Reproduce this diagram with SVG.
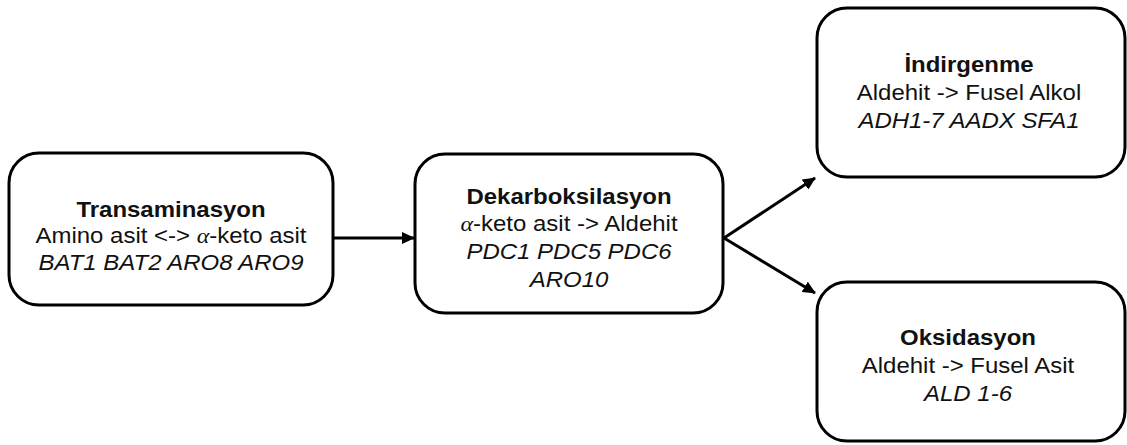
<svg xmlns="http://www.w3.org/2000/svg" width="1127" height="445" viewBox="0 0 1127 445">
  <style>
    .box { fill: #ffffff; stroke: #000000; stroke-width: 3; }
    .t { font-family: "Liberation Sans", Arial, sans-serif; font-size: 22px; fill: #111111; text-anchor: middle; }
    .b { font-weight: bold; }
    .i { font-style: italic; }
    .g { font-family: "Liberation Serif", "Times New Roman", serif; font-style: italic; }
    .edge { stroke: #000000; stroke-width: 3; fill: none; }
  </style>
  <defs>
    <marker id="arrow" markerWidth="13" markerHeight="12" refX="12" refY="6" orient="auto" markerUnits="userSpaceOnUse">
      <path d="M0,0 L13,6 L0,12 Z" fill="#000000"/>
    </marker>
  </defs>

  <g id="connectors">
    <line class="edge" x1="334" y1="238" x2="414" y2="238" marker-end="url(#arrow)"/>
    <line class="edge" x1="724" y1="238" x2="815" y2="178" marker-end="url(#arrow)"/>
    <line class="edge" x1="724" y1="238" x2="815" y2="293" marker-end="url(#arrow)"/>
  </g>

  <!-- labels are drawn at x=0 and stretched slightly wider around each box centre -->
  <g id="transaminasyon">
    <rect class="box" x="9" y="153" width="324" height="152" rx="30" ry="30"/>
    <g transform="translate(171,0) scale(1.09,1)">
      <text class="t b" x="0" y="217">Transaminasyon</text>
      <text class="t" x="0" y="243">Amino asit &lt;-&gt; <tspan class="g">α</tspan>-keto asit</text>
      <text class="t i" x="0" y="270">BAT1 BAT2 ARO8 ARO9</text>
    </g>
  </g>

  <g id="dekarboksilasyon">
    <rect class="box" x="415" y="154" width="308" height="159" rx="30" ry="30"/>
    <g transform="translate(569,0) scale(1.09,1)">
      <text class="t b" x="0" y="204">Dekarboksilasyon</text>
      <text class="t" x="0" y="231"><tspan class="g">α</tspan>-keto asit -&gt; Aldehit</text>
      <text class="t i" x="0" y="259">PDC1 PDC5 PDC6</text>
      <text class="t i" x="0" y="287">ARO10</text>
    </g>
  </g>

  <g id="indirgenme">
    <rect class="box" x="817" y="8" width="308" height="169" rx="30" ry="30"/>
    <g transform="translate(969,0) scale(1.09,1)">
      <text class="t b" x="0" y="72">İndirgenme</text>
      <text class="t" x="0" y="100">Aldehit -&gt; Fusel Alkol</text>
      <text class="t i" x="0" y="128">ADH1-7 AADX SFA1</text>
    </g>
  </g>

  <g id="oksidasyon">
    <rect class="box" x="817" y="282" width="308" height="159" rx="30" ry="30"/>
    <g transform="translate(968,0) scale(1.09,1)">
      <text class="t b" x="0" y="345">Oksidasyon</text>
      <text class="t" x="0" y="373">Aldehit -&gt; Fusel Asit</text>
      <text class="t i" x="0" y="401">ALD 1-6</text>
    </g>
  </g>
</svg>
